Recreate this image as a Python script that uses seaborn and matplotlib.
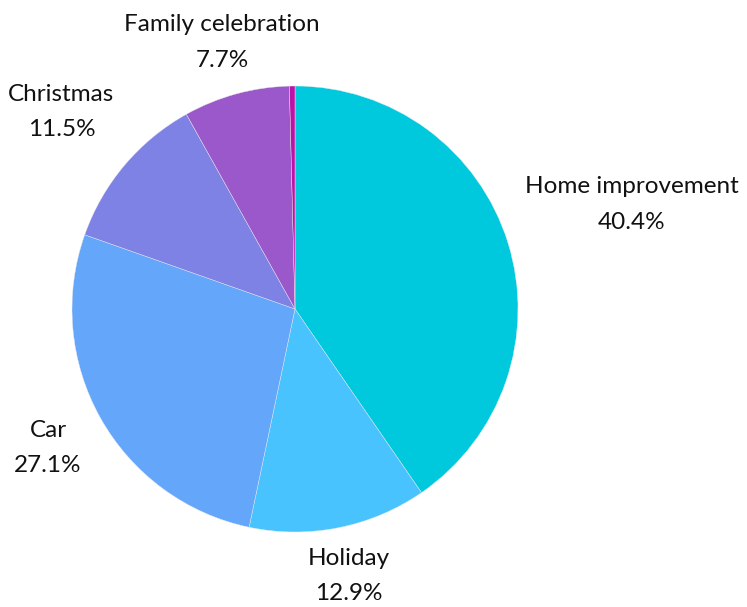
import matplotlib
matplotlib.use("Agg")
import matplotlib.pyplot as plt
import seaborn as sns
import numpy as np

categories = ["Home improvement", "Holiday", "Car", "Christmas", "Family celebration", "Other"]
values = [40.4, 12.9, 27.1, 11.5, 7.7, 0.4]
show_label = [True, True, True, True, True, False]
colors = ["#00C9DD", "#48C3FD", "#64A6FA", "#7F82E5", "#9B58CA", "#BC12A8"]
label_dist = [1.58, 1.22, 1.27, 1.37, 1.24, 1.2]

sns.set_theme(style="white")
plt.rcParams['font.family'] = ['Lato', 'DejaVu Sans']

fig = plt.figure(figsize=(7.47, 6.07), dpi=100)
W, H = 747, 607
cx, cy, r = 295, 309, 223
ax = fig.add_axes([(cx - r) / W, (H - cy - r) / H, 2 * r / W, 2 * r / H])

wedges, _ = ax.pie(values, colors=colors, startangle=90, counterclock=False,
                   radius=1, wedgeprops=dict(linewidth=0.3, edgecolor="#e8e8f0"))
ax.set_xlim(-1, 1)
ax.set_ylim(-1, 1)
ax.set_aspect("equal")
ax.axis("off")

for w, cat, val, show, d in zip(wedges, categories, values, show_label, label_dist):
    if not show:
        continue
    ang = np.deg2rad((w.theta1 + w.theta2) / 2)
    x, y = d * np.cos(ang), d * np.sin(ang)
    ax.text(x, y, f"{cat}\n{val:.1f}%", ha="center", va="center", fontsize=17.5,
            color="#111111", linespacing=1.85, clip_on=False)

fig.savefig("out.png", dpi=100)
